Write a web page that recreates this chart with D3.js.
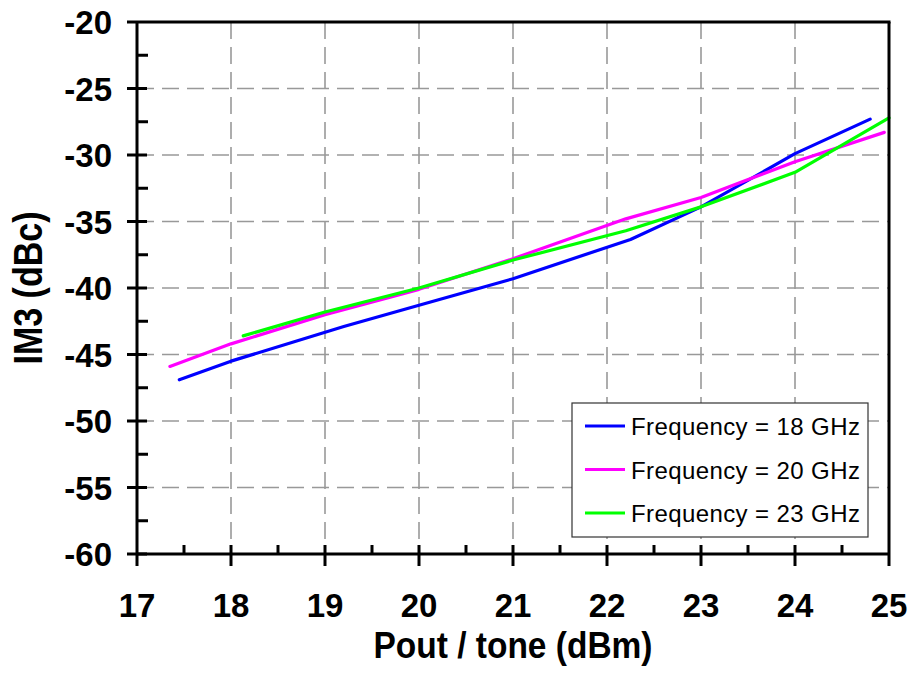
<!DOCTYPE html>
<html>
<head>
<meta charset="utf-8">
<script src="https://cdn.jsdelivr.net/npm/d3@7"></script>
<style>
body { margin: 0; background: #fff; }
svg { display: block; font-family: "Liberation Sans", Arial, sans-serif; }
</style>
</head>
<body>
<svg id="chart" width="911" height="685"></svg>
<script>
// values
var xTicks = [17, 18, 19, 20, 21, 22, 23, 24, 25];
var yTicks = [-20, -25, -30, -35, -40, -45, -50, -55, -60];
var seriesNames = ["Frequency = 18 GHz", "Frequency = 20 GHz", "Frequency = 23 GHz"];
var seriesColors = ["#0000ff", "#ff00ff", "#00ff00"];
var pout18 = [17.45, 18, 19.2, 20, 21, 22.25, 23, 24, 24.8];
var im3_18 = [-46.9, -45.5, -42.9, -41.3, -39.3, -36.35, -33.9, -29.9, -27.3];
var pout20 = [17.35, 18, 19, 20, 21, 22.2, 23, 24, 24.95];
var im3_20 = [-45.9, -44.2, -42.0, -40.1, -37.8, -34.8, -33.2, -30.5, -28.3];
var pout23 = [18.13, 19, 20, 21, 22.2, 23, 24, 25];
var im3_23 = [-43.6, -41.8, -40.0, -37.9, -35.7, -33.9, -31.3, -27.2];

var pLeft = 137, pTop = 22, pRight = 889, pBottom = 554;

var svg = d3.select("#chart");
var x = d3.scaleLinear().domain([17, 25]).range([pLeft, pRight]);
var y = d3.scaleLinear().domain([-60, -20]).range([pBottom, pTop]);

// dashed grid
var grid = svg.append("g")
    .attr("stroke", "#999")
    .attr("stroke-width", 1.6)
    .attr("stroke-dasharray", "17,8");
grid.selectAll("line.vx")
    .data(xTicks.slice(1, -1))
    .enter().append("line")
    .attr("class", "vx")
    .attr("x1", function (d) { return x(d); })
    .attr("x2", function (d) { return x(d); })
    .attr("y1", pTop).attr("y2", pBottom);
grid.selectAll("line.hy")
    .data(yTicks.slice(1, -1))
    .enter().append("line")
    .attr("class", "hy")
    .attr("y1", function (d) { return y(d); })
    .attr("y2", function (d) { return y(d); })
    .attr("x1", pLeft).attr("x2", pRight);

// data lines
var all = [[pout18, im3_18], [pout20, im3_20], [pout23, im3_23]];
var line = d3.line()
    .x(function (d) { return x(d[0]); })
    .y(function (d) { return y(d[1]); });
for (var s = 0; s < all.length; s++) {
    var pts = all[s][0].map(function (v, i) { return [v, all[s][1][i]]; });
    svg.append("path")
        .datum(pts)
        .attr("d", line)
        .attr("fill", "none")
        .attr("stroke", seriesColors[s])
        .attr("stroke-width", 3.2)
        .attr("stroke-linejoin", "round")
        .attr("stroke-linecap", "round");
}

// axes: major ticks cross the line, minor ticks point inward
var xMinor = d3.range(17.5, 25, 1);
var yMinor = d3.range(-57.5, -20, 5);
var axisG = svg.append("g").attr("stroke", "#000").attr("stroke-width", 3);
axisG.append("line").attr("x1", pLeft).attr("x2", pRight).attr("y1", pBottom).attr("y2", pBottom);
axisG.append("line").attr("x1", pLeft).attr("x2", pLeft).attr("y1", pTop).attr("y2", pBottom + 12);
axisG.append("line").attr("x1", pLeft - 10).attr("x2", pRight + 1.5).attr("y1", pTop).attr("y2", pTop);
axisG.append("line").attr("x1", pRight).attr("x2", pRight).attr("y1", pTop).attr("y2", pBottom + 12);
axisG.selectAll("line.xt")
    .data(xTicks.slice(1, -1))
    .enter().append("line")
    .attr("class", "xt")
    .attr("x1", function (d) { return x(d); })
    .attr("x2", function (d) { return x(d); })
    .attr("y1", pBottom - 9).attr("y2", pBottom + 12);
axisG.selectAll("line.xm")
    .data(xMinor)
    .enter().append("line")
    .attr("class", "xm")
    .attr("x1", function (d) { return x(d); })
    .attr("x2", function (d) { return x(d); })
    .attr("y1", pBottom - 9).attr("y2", pBottom);
axisG.selectAll("line.yt")
    .data(yTicks.slice(1))
    .enter().append("line")
    .attr("class", "yt")
    .attr("y1", function (d) { return y(d); })
    .attr("y2", function (d) { return y(d); })
    .attr("x1", pLeft - 10).attr("x2", pLeft + 10);
axisG.selectAll("line.ym")
    .data(yMinor)
    .enter().append("line")
    .attr("class", "ym")
    .attr("y1", function (d) { return y(d); })
    .attr("y2", function (d) { return y(d); })
    .attr("x1", pLeft).attr("x2", pLeft + 11);

// tick labels
svg.selectAll("text.xl")
    .data(xTicks)
    .enter().append("text")
    .attr("class", "xl")
    .attr("x", function (d) { return x(d); })
    .attr("y", 617)
    .attr("text-anchor", "middle")
    .style("font-size", "33px")
    .style("font-weight", "bold")
    .text(function (d) { return d; });
svg.selectAll("text.yl")
    .data(yTicks)
    .enter().append("text")
    .attr("class", "yl")
    .attr("x", 112)
    .attr("y", function (d) { return y(d) + 12; })
    .attr("text-anchor", "end")
    .style("font-size", "33px")
    .style("font-weight", "bold")
    .text(function (d) { return d; });

// axis titles
svg.append("text")
    .attr("transform", "translate(" + (pLeft + pRight) / 2 + ",658) scale(1,1.1)")
    .attr("text-anchor", "middle")
    .style("font-size", "33.5px")
    .style("font-weight", "bold")
    .text("Pout / tone (dBm)");
svg.append("text")
    .attr("transform", "translate(42," + (pTop + pBottom) / 2 + ") rotate(-90) scale(1,1.2)")
    .attr("text-anchor", "middle")
    .style("font-size", "34px")
    .style("font-weight", "bold")
    .text("IM3 (dBc)");

// legend
var legend = svg.append("g");
legend.append("rect")
    .attr("x", 572).attr("y", 403)
    .attr("width", 296).attr("height", 134)
    .attr("fill", "#fff")
    .attr("stroke", "#333")
    .attr("stroke-width", 1.2);
var rows = legend.selectAll("g.row")
    .data(seriesNames)
    .enter().append("g")
    .attr("class", "row")
    .attr("transform", function (d, i) { return "translate(0," + (426 + i * 43.5) + ")"; });
rows.append("line")
    .attr("x1", 585).attr("x2", 625)
    .attr("stroke", function (d, i) { return seriesColors[i]; })
    .attr("stroke-width", 3.2);
rows.append("text")
    .attr("x", 631)
    .attr("y", 9)
    .style("font-size", "24px")
    .style("letter-spacing", "0.4px")
    .text(function (d) { return d; });
</script>
</body>
</html>
